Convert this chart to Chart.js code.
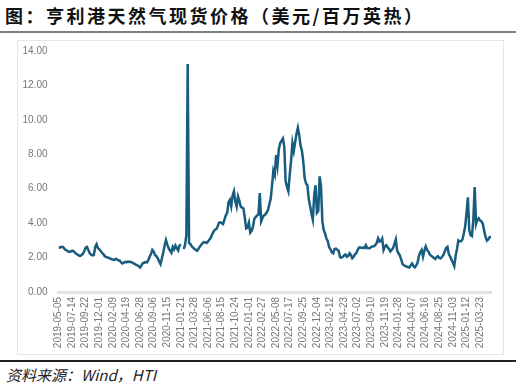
<!DOCTYPE html>
<html lang="zh">
<head>
    <meta charset="UTF-8">
    <title>亨利港天然气现货价格</title>
    <script src="https://cdn.jsdelivr.net/npm/chart.js"></script>
    <style>
        body {
            margin: 0;
            width: 521px;
            height: 391px;
            position: relative;
            background: #ffffff;
            font-family: "Liberation Sans", Arial, sans-serif;
            overflow: hidden;
        }
        .title {
            position: absolute;
            left: 5px;
            top: 4px;
            font-family: "Noto Sans CJK SC", sans-serif;
            font-weight: bold;
            font-size: 18px;
            letter-spacing: 2.5px;
            line-height: 22px;
            color: #111;
            white-space: nowrap;
        }
        .title-rule {
            position: absolute;
            left: 0;
            top: 31px;
            width: 516px;
            height: 2px;
            background: #7f7f7f;
        }
        .frame {
            position: absolute;
            left: 17px;
            top: 40px;
            width: 485px;
            height: 313px;
            border: 1px solid #e6e6e6;
        }
        .chart-box {
            position: absolute;
            left: 17px;
            top: 40px;
            width: 486px;
            height: 314px;
        }
        .foot-rule {
            position: absolute;
            left: 0;
            top: 360px;
            width: 516px;
            height: 1.5px;
            background: #222;
        }
        .source {
            position: absolute;
            left: 6px;
            top: 365px;
            font-family: "Noto Sans CJK SC", sans-serif;
            font-style: italic;
            font-size: 15px;
            line-height: 20px;
            color: #222;
            white-space: nowrap;
        }
    </style>
</head>
<body>
    <div class="title">图：亨利港天然气现货价格（美元/百万英热）</div>
    <div class="title-rule"></div>
    <div class="frame"></div>
    <div class="chart-box">
        <canvas id="gasChart" width="486" height="314"></canvas>
    </div>
    <div class="foot-rule"></div>
    <div class="source">资料来源：Wind，HTI</div>

    <script>
        // tick labels shown every 10 weeks
        const tickLabels = [
            '2019-05-05', '2019-07-14', '2019-09-22', '2019-12-01',
            '2020-02-09', '2020-04-19', '2020-06-28', '2020-09-06', '2020-11-15',
            '2021-01-21', '2021-03-28', '2021-06-06', '2021-08-15', '2021-10-24',
            '2022-01-01', '2022-02-27', '2022-05-08', '2022-07-17', '2022-09-25', '2022-12-04',
            '2023-02-12', '2023-04-23', '2023-07-02', '2023-09-10', '2023-11-19',
            '2024-01-28', '2024-04-07', '2024-06-16', '2024-08-25', '2024-11-03',
            '2025-01-12', '2025-03-23'
        ];

        // weekly spot price, USD/MMBtu
        const prices2019 = [
            2.60, 2.58, 2.62, 2.63, 2.55, 2.45, 2.42, 2.36, 2.33, 2.35,
            2.40, 2.38, 2.30, 2.22, 2.18, 2.12, 2.10, 2.15, 2.22, 2.38,
            2.58, 2.62, 2.42, 2.25, 2.17, 2.13, 2.15, 2.62, 2.78, 2.55,
            2.48, 2.38, 2.27, 2.20, 2.08, 2.04
        ];
        const prices2020 = [
            2.00, 1.98, 1.95, 1.90, 1.88, 1.86, 1.92, 1.90, 1.84, 1.82,
            1.72, 1.66, 1.70, 1.75, 1.72, 1.78, 1.74, 1.76, 1.72, 1.67,
            1.64, 1.58, 1.55, 1.50, 1.42, 1.55, 1.68, 1.70, 1.74, 1.72,
            1.85, 2.05, 2.20, 2.45, 2.35, 2.15, 2.08, 1.96, 1.78, 1.62,
            1.95, 2.30, 2.70, 3.02, 2.75, 2.55, 2.40, 2.28, 2.62, 2.48,
            2.70, 2.55, 2.42, 2.70, 2.76
        ];
        const prices2021 = [
            null, 2.50, 2.70, 3.30, 13.25, 2.85, 2.78, 2.65, 2.58, 2.50,
            2.45, 2.40, 2.52, 2.64, 2.75, 2.85, 2.90, 2.88, 2.85, 2.95,
            3.05, 3.15, 3.35, 3.50, 3.62, 3.66, 3.80, 4.02, 4.05, 4.00,
            3.95, 4.20, 4.45, 4.60, 5.20, 5.35, 4.98, 5.60, 5.85, 5.25,
            4.95, 5.55, 5.30, 4.95, 4.90, 4.85, 4.30, 3.70, 3.75, 4.03,
            3.45, 3.55, 3.80
        ];
        const prices2022 = [
            4.25, 4.35, 4.45, 4.50, 5.75, 4.10, 4.30, 4.45, 4.50, 4.62,
            4.75, 5.10, 5.40, 6.20, 7.05, 6.80, 7.95, 7.35, 8.30, 8.64,
            8.80, 8.92, 8.45, 6.45, 6.10, 5.85, 6.80, 7.60, 8.65, 8.20,
            8.70, 9.20, 9.55, 9.10, 8.50, 8.20, 7.55, 6.60, 6.30, 6.20,
            5.40, 5.00, 4.55, 4.20, 5.60, 6.20, 4.60, 4.70, 6.72, 6.15
        ];
        const prices2023 = [
            4.10, 3.60, 3.40, 3.10, 2.95, 2.60, 2.48, 2.30, 2.25, 2.50,
            2.52, 2.45, 2.40, 2.02, 2.00, 2.05, 2.12, 2.18, 2.05, 2.10,
            2.25, 2.15, 1.96, 2.05, 2.20, 2.25, 2.45, 2.58, 2.58, 2.56,
            2.58, 2.55, 2.72, 2.55, 2.54, 2.55, 2.62, 2.64, 2.66, 2.73,
            2.85, 3.12, 2.93, 2.95, 3.10, 2.44, 2.64, 2.72, 2.60, 2.50,
            2.35, 2.45, 2.55
        ];
        const prices2024 = [
            2.80, 3.05, 2.40, 2.25, 2.12, 1.88, 1.62, 1.55, 1.50, 1.48,
            1.45, 1.42, 1.55, 1.65, 1.50, 1.43, 1.55, 1.70, 2.10, 2.30,
            2.44, 2.05, 2.40, 2.65, 2.45, 2.35, 2.18, 2.10, 2.05, 1.98,
            1.92, 2.02, 2.08, 1.98, 1.96, 2.05, 2.15, 2.35, 2.55, 2.62,
            2.20, 2.05, 1.88, 1.70, 1.50, 2.10, 2.50, 3.00, 2.95, 2.95
        ];
        const prices2025 = [
            3.05, 3.40, 3.80, 4.60, 5.50, 3.60, 3.30, 3.25, 4.20, 6.10,
            3.95, 4.20, 4.28, 4.15, 4.10, 3.95, 3.55, 3.20, 2.98, 3.05,
            3.18, 3.22
        ];

        const prices = [].concat(prices2019, prices2020, prices2021, prices2022, prices2023, prices2024, prices2025);
        const points = prices.map((v, i) => ({ x: i, y: v }));

        const ctx = document.getElementById('gasChart').getContext('2d');
        const chart = new Chart(ctx, {
            type: 'line',
            data: {
                datasets: [{
                    label: '亨利港天然气现货价格',
                    data: points,
                    borderColor: '#185d80',
                    borderWidth: 2.5,
                    pointRadius: 0,
                    tension: 0,
                    spanGaps: false,
                    fill: false
                }]
            },
            options: {
                responsive: false,
                animation: false,
                layout: {
                    padding: { top: 11, right: 12, left: 0, bottom: 0 }
                },
                plugins: {
                    legend: { display: false },
                    tooltip: { enabled: false }
                },
                scales: {
                    x: {
                        type: 'linear',
                        min: 0,
                        max: prices.length - 1,
                        grid: { display: false, drawTicks: false },
                        border: { display: true, color: '#e2e2e2', width: 3 },
                        afterBuildTicks: s => {
                            s.ticks = tickLabels.map((_, k) => ({ value: k * 10 }));
                        },
                        ticks: {
                            autoSkip: false,
                            maxRotation: 90,
                            minRotation: 90,
                            padding: 5,
                            color: '#777777',
                            font: { family: 'Liberation Sans', size: 10 },
                            callback: v => tickLabels[Math.round(v / 10)] || ''
                        },
                        afterFit: s => { s.height = 62; }
                    },
                    y: {
                        min: 0,
                        max: 14,
                        grid: { display: false, drawTicks: true, tickLength: 10 },
                        border: { display: false },
                        ticks: {
                            stepSize: 2,
                            padding: 1,
                            color: '#777777',
                            font: { family: 'Liberation Sans', size: 10 },
                            callback: v => v.toFixed(2)
                        },
                        afterFit: s => { s.width = 41.5; }
                    }
                }
            }
        });
    </script>
</body>
</html>
